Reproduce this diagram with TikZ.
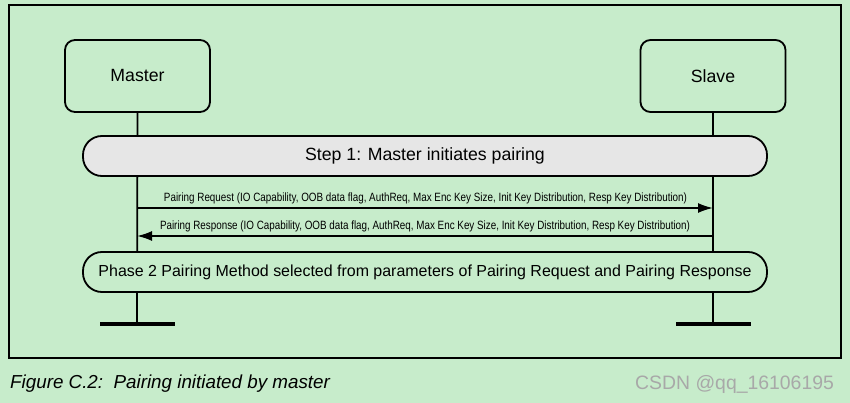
\documentclass[tikz,border=0pt]{standalone}
\usepackage{fontspec}
\setmainfont{Liberation Sans}
\usetikzlibrary{arrows.meta}
\definecolor{bggreen}{HTML}{C7ECCB}
\definecolor{stepgray}{HTML}{E6E6E6}
\definecolor{wmgray}{HTML}{A8A8A8}
\begin{document}
\begin{tikzpicture}[x=1pt,y=-1pt,
  entity/.style={draw=black,line width=1.8pt,rounded corners=10pt,fill=bggreen,
    minimum width=145pt,minimum height=72pt,inner sep=0pt,
    font=\fontsize{17.7}{20}\selectfont},
  band/.style={draw=black,line width=1.8pt,rounded corners=19pt,
    minimum width=684pt,minimum height=40pt,inner sep=0pt,
    font=\fontsize{17.7}{20}\selectfont},
  life/.style={line width=1.8pt},
  endbar/.style={line width=3.5pt},
  msg/.style={line width=1.8pt,-{Latex[length=15pt,width=10pt]}},
  lbl/.style={inner sep=0pt,font=\fontsize{12}{14}\selectfont}
]
\useasboundingbox (0,0) rectangle (850,403);
\fill[bggreen] (0,0) rectangle (850,403);
\draw[line width=1.2pt] (9,5) rectangle (841,358);

\node[entity] (master) at (137.5,76) {Master};
\node[entity] (slave) at (713,76) {Slave};

\coordinate (mend) at (137,324);
\coordinate (send) at (713,324);
\coordinate (mbarL) at (100,324);
\coordinate (mbarR) at (175,324);
\coordinate (sbarL) at (676,324);
\coordinate (sbarR) at (751,324);

\draw[life] (master.south) -- (mend);
\draw[life] (slave.south) -- (send);
\draw[endbar] (mbarL) -- (mbarR);
\draw[endbar] (sbarL) -- (sbarR);

\node[band,fill=stepgray] (step) at (425,156) {Step 1: Master initiates pairing};

\coordinate (mreq) at (137,208);
\coordinate (sreq) at (713,208);
\coordinate (mres) at (137,236);
\coordinate (sres) at (713,236);
\draw[msg] (mreq) -- (sreq);
\draw[msg] (sres) -- (mres);
\node[lbl] (reqlbl) at (425.5,198) {\resizebox{523pt}{\height}{Pairing Request (IO Capability, OOB data flag, AuthReq, Max Enc Key Size, Init Key Distribution, Resp Key Distribution)}};
\node[lbl] (reslbl) at (425,226.5) {\resizebox{530pt}{\height}{Pairing Response (IO Capability, OOB data flag, AuthReq, Max Enc Key Size, Init Key Distribution, Resp Key Distribution)}};

\node[band,fill=bggreen,font=\fontsize{16}{18}\selectfont] (phase) at (425,272) {\resizebox{653pt}{\height}{Phase 2 Pairing Method selected from parameters of Pairing Request and Pairing Response}};

\node[anchor=base west,inner sep=0pt,font=\fontsize{18.8}{21}\selectfont\itshape] (cap) at (10,388) {Figure C.2:\ \ Pairing initiated by master};
\node[anchor=base west,inner sep=0pt,text=wmgray,font=\fontsize{19.4}{21}\selectfont] (wm) at (635,389) {CSDN @qq\_16106195};
\end{tikzpicture}
\end{document}
